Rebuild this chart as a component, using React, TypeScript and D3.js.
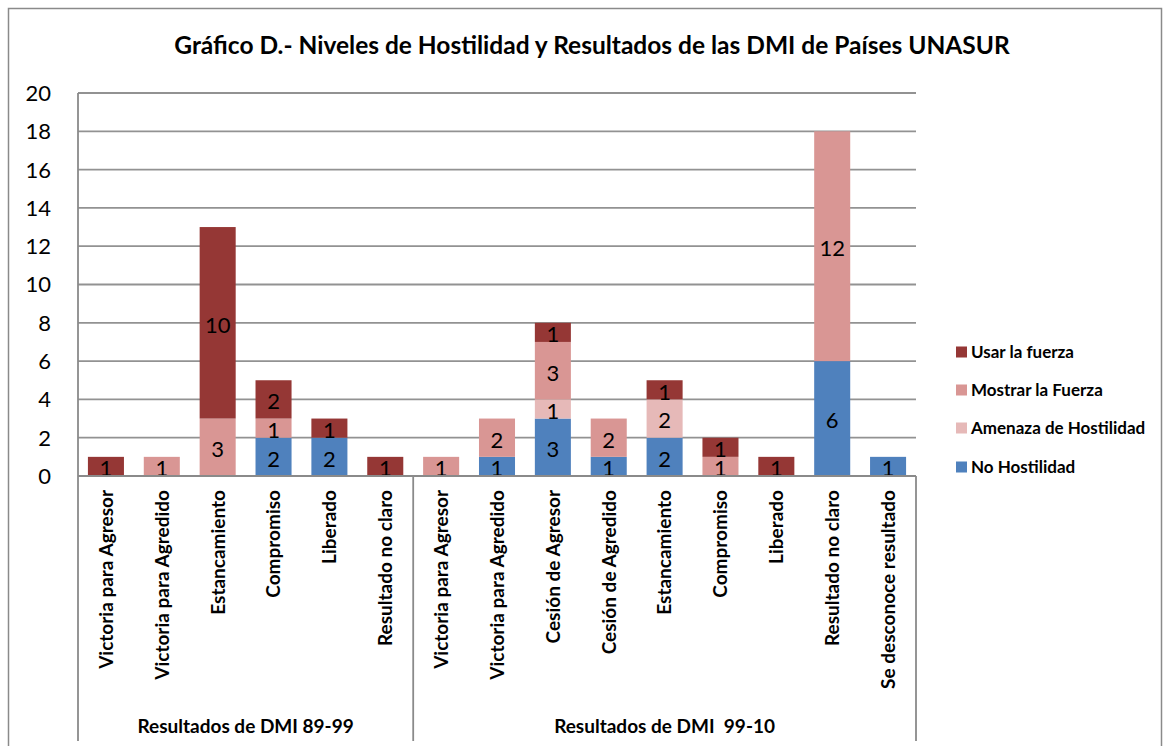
import React from "react";
import * as d3 from "d3";

const categories = [
  "Victoria para Agresor",
  "Victoria para Agredido",
  "Estancamiento",
  "Compromiso",
  "Liberado",
  "Resultado no claro",
  "Victoria para Agresor",
  "Victoria para Agredido",
  "Cesión de Agresor",
  "Cesión de Agredido",
  "Estancamiento",
  "Compromiso",
  "Liberado",
  "Resultado no claro",
  "Se desconoce resultado",
];
const groups = ["Resultados de DMI 89-99", "Resultados de DMI  99-10"];
const groupSizes = [6, 9];

const seriesNames = ["No Hostilidad", "Amenaza de Hostilidad", "Mostrar la Fuerza", "Usar la fuerza"];
const seriesColors = ["#4F81BD", "#E6B9B8", "#D99694", "#953735"];

const noHostilidad = [0, 0, 0, 2, 2, 0, 0, 1, 3, 1, 2, 0, 0, 6, 1];
const amenaza = [0, 0, 0, 0, 0, 0, 0, 0, 1, 0, 2, 0, 0, 0, 0];
const mostrar = [0, 1, 3, 1, 0, 0, 1, 2, 3, 2, 0, 1, 0, 12, 0];
const usar = [1, 0, 10, 2, 1, 1, 0, 0, 1, 0, 1, 1, 1, 0, 0];

const yTicks = [0, 2, 4, 6, 8, 10, 12, 14, 16, 18, 20];
const title = "Gráfico D.- Niveles de Hostilidad y Resultados de las DMI de Países UNASUR";

const W = 1165;
const H = 746;
const plot = { left: 78, right: 916, top: 93, bottom: 476 };
const FONT = "Lato, 'Open Sans', sans-serif";

export default function App() {
  const idx = categories.map((_, i) => i);
  const x = d3.scaleBand<number>().domain(idx).range([plot.left, plot.right]).paddingInner(0.355).paddingOuter(0.1775);
  const xOuter = d3.scaleBand<number>().domain(idx).range([plot.left, plot.right]).padding(0);
  const y = d3.scaleLinear().domain([0, 20]).range([plot.bottom, plot.top]);

  const table = idx.map((i) => ({
    i,
    s0: noHostilidad[i],
    s1: amenaza[i],
    s2: mostrar[i],
    s3: usar[i],
  }));
  const stack = d3.stack<any>().keys(["s0", "s1", "s2", "s3"]);
  const layers = stack(table);

  const axisBottom = 741;
  let acc = 0;
  const groupBounds = groupSizes.map((n) => {
    const start = acc;
    acc += n;
    return { start, end: acc };
  });

  const legendY = [352, 390, 428, 467];
  const legendOrder = [3, 2, 1, 0];

  return (
    <svg width={W} height={H} style={{ position: "absolute", left: 0, top: 0 }} fontFamily={FONT}>
      <rect x={0} y={0} width={W} height={H} fill="#fff" />
      <rect x={8.5} y={8.5} width={1153} height={760} fill="none" stroke="#8a8a8a" strokeWidth={1.5} />
      <text x={592} y={54} textAnchor="middle" fontWeight="bold" fontSize={24.5} fill="#000">
        {title}
      </text>
      {/* gridlines */}
      {yTicks.map((t) => (
        <line key={t} x1={plot.left} x2={plot.right} y1={y(t)} y2={y(t)} stroke="#929292" strokeWidth={1.8} />
      ))}
      {yTicks.map((t) => (
        <text key={"l" + t} x={51} y={y(t)} dy="0.36em" textAnchor="end" fontSize={22} fill="#000">
          {t}
        </text>
      ))}
      {/* bars */}
      {layers.map((layer, li) =>
        layer.map((d, i) => {
          const v = d[1] - d[0];
          if (v <= 0) return null;
          return (
            <g key={li + "-" + i}>
              <rect x={x(i)} width={x.bandwidth()} y={y(d[1])} height={y(d[0]) - y(d[1])} fill={seriesColors[li]} />
              <text
                x={(x(i) as number) + x.bandwidth() / 2}
                y={(y(d[0]) + y(d[1])) / 2 + 2}
                dy="0.36em"
                textAnchor="middle"
                fontSize={22}
                fill="#000"
              >
                {v}
              </text>
            </g>
          );
        })
      )}
      {/* axes */}
      <line x1={plot.left} x2={plot.left} y1={plot.top} y2={axisBottom} stroke="#8a8a8a" strokeWidth={1.8} />
      <line x1={plot.left} x2={plot.right} y1={plot.bottom} y2={plot.bottom} stroke="#8a8a8a" strokeWidth={1.8} />
      {groupBounds.map((g, gi) => (
        <line
          key={"gb" + gi}
          x1={(xOuter(g.end - 1) as number) + xOuter.bandwidth()}
          x2={(xOuter(g.end - 1) as number) + xOuter.bandwidth()}
          y1={plot.bottom}
          y2={axisBottom}
          stroke="#8a8a8a"
          strokeWidth={1.8}
        />
      ))}
      {categories.map((c, i) => {
        const cx = (xOuter(i) as number) + xOuter.bandwidth() / 2;
        return (
          <text
            key={"c" + i}
            transform={`translate(${cx},490) rotate(-90)`}
            dy="0.36em"
            textAnchor="end"
            fontWeight="bold"
            fontSize={19}
            fill="#000"
          >
            {c}
          </text>
        );
      })}
      {groupBounds.map((g, gi) => {
        const x0 = xOuter(g.start) as number;
        const x1 = (xOuter(g.end - 1) as number) + xOuter.bandwidth();
        return (
          <text key={"g" + gi} x={(x0 + x1) / 2} y={733} textAnchor="middle" fontWeight="bold" fontSize={19} fill="#000" style={{ whiteSpace: "pre" }}>
            {groups[gi]}
          </text>
        );
      })}
      {/* legend */}
      {legendOrder.map((si, k) => (
        <g key={"lg" + si}>
          <rect x={956} y={legendY[k] - 5.5} width={11} height={11} fill={seriesColors[si]} />
          <text x={971} y={legendY[k]} dy="0.36em" fontWeight="bold" fontSize={17} fill="#000">
            {seriesNames[si]}
          </text>
        </g>
      ))}
    </svg>
  );
}
